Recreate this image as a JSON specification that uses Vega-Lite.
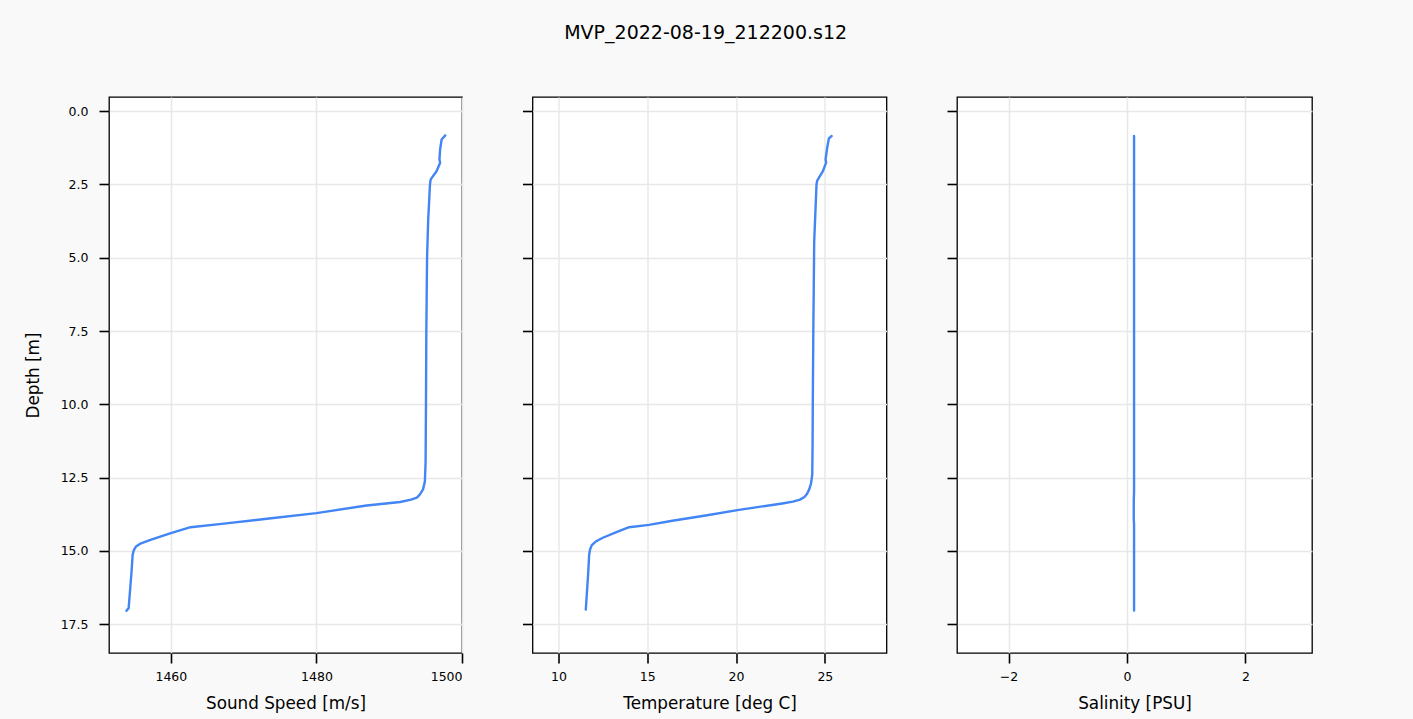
{
  "$schema": "https://vega.github.io/schema/vega-lite/v6.json",
  "background": "#f9f9f9",
  "padding": {"left": 24, "top": 24, "right": 100, "bottom": 8},
  "bounds": "flush",
  "spacing": 70.5,
  "title": {"text": "MVP_2022-08-19_212200.s12", "fontSize": 19, "font": "DejaVu Sans", "fontWeight": "normal", "color": "black", "anchor": "middle", "offset": 53, "dx": 37},
  "datasets": {
    "ss": [
      {"depth": 0.83, "speed": 1497.7},
      {"depth": 0.97, "speed": 1497.2},
      {"depth": 1.3, "speed": 1497.0},
      {"depth": 1.65, "speed": 1496.9},
      {"depth": 1.76, "speed": 1497.0},
      {"depth": 2.05, "speed": 1496.5},
      {"depth": 2.33, "speed": 1495.7},
      {"depth": 2.5, "speed": 1495.6},
      {"depth": 3.75, "speed": 1495.35},
      {"depth": 5.0, "speed": 1495.2},
      {"depth": 7.5, "speed": 1495.1},
      {"depth": 10.0, "speed": 1495.05},
      {"depth": 11.95, "speed": 1495.0},
      {"depth": 12.63, "speed": 1494.9},
      {"depth": 12.9, "speed": 1494.65},
      {"depth": 13.08, "speed": 1494.2},
      {"depth": 13.18, "speed": 1493.8},
      {"depth": 13.25, "speed": 1493.0},
      {"depth": 13.33, "speed": 1491.5},
      {"depth": 13.45, "speed": 1486.9},
      {"depth": 13.71, "speed": 1480.0},
      {"depth": 13.9, "speed": 1473.2},
      {"depth": 14.07, "speed": 1467.3},
      {"depth": 14.19, "speed": 1462.7},
      {"depth": 14.39, "speed": 1460.0},
      {"depth": 14.62, "speed": 1457.2},
      {"depth": 14.74, "speed": 1455.9},
      {"depth": 14.85, "speed": 1455.2},
      {"depth": 14.98, "speed": 1454.9},
      {"depth": 15.13, "speed": 1454.75},
      {"depth": 15.7, "speed": 1454.6},
      {"depth": 16.95, "speed": 1454.2},
      {"depth": 17.04, "speed": 1453.9}
    ],
    "temp": [
      {"depth": 0.85, "temperature": 25.38},
      {"depth": 0.93, "temperature": 25.23},
      {"depth": 1.25, "temperature": 25.13},
      {"depth": 1.65, "temperature": 25.04},
      {"depth": 1.76, "temperature": 25.07},
      {"depth": 2.05, "temperature": 24.89},
      {"depth": 2.37, "temperature": 24.57},
      {"depth": 2.5, "temperature": 24.53},
      {"depth": 4.44, "temperature": 24.4},
      {"depth": 7.5, "temperature": 24.35},
      {"depth": 10.0, "temperature": 24.32},
      {"depth": 11.26, "temperature": 24.31},
      {"depth": 12.4, "temperature": 24.29},
      {"depth": 12.7, "temperature": 24.22},
      {"depth": 12.9, "temperature": 24.12},
      {"depth": 13.05, "temperature": 24.0},
      {"depth": 13.16, "temperature": 23.85},
      {"depth": 13.25, "temperature": 23.6},
      {"depth": 13.32, "temperature": 23.2},
      {"depth": 13.38, "temperature": 22.6},
      {"depth": 13.6, "temperature": 20.16},
      {"depth": 13.79, "temperature": 18.29},
      {"depth": 13.97, "temperature": 16.41},
      {"depth": 14.11, "temperature": 15.1},
      {"depth": 14.19, "temperature": 13.98},
      {"depth": 14.37, "temperature": 13.23},
      {"depth": 14.55, "temperature": 12.5},
      {"depth": 14.68, "temperature": 12.1},
      {"depth": 14.8, "temperature": 11.88},
      {"depth": 14.95, "temperature": 11.78},
      {"depth": 15.13, "temperature": 11.73},
      {"depth": 15.81, "temperature": 11.67},
      {"depth": 17.0, "temperature": 11.54}
    ],
    "sal": [
      {"depth": 0.85, "salinity": 0.12},
      {"depth": 5.0, "salinity": 0.12},
      {"depth": 10.0, "salinity": 0.12},
      {"depth": 12.97, "salinity": 0.12},
      {"depth": 13.3, "salinity": 0.115},
      {"depth": 13.9, "salinity": 0.115},
      {"depth": 14.1, "salinity": 0.12},
      {"depth": 17.03, "salinity": 0.12}
    ]
  },
  "config": {
    "font": "DejaVu Sans",
    "view": {"stroke": "black", "strokeWidth": 1.3, "fill": "white"},
    "axis": {
      "domain": false,
      "grid": true,
      "gridColor": "#e8e8e8",
      "gridWidth": 1.5,
      "tickColor": "black",
      "tickSize": 10,
      "tickWidth": 1.6,
      "labelFont": "DejaVu Sans",
      "labelFontSize": 12.5,
      "labelColor": "black",
      "titleFont": "DejaVu Sans",
      "titleFontSize": 16.8,
      "titleFontWeight": "normal",
      "titleColor": "black"
    },
    "axisX": {"labelPadding": 7, "titlePadding": 13},
    "axisY": {"labelPadding": 11}
  },
  "hconcat": [
    {
      "width": 353,
      "height": 556,
      "data": {"name": "ss"},
      "mark": {"type": "line", "color": "#4285f4", "strokeWidth": 2.4, "strokeJoin": "round", "strokeCap": "round"},
      "encoding": {
        "x": {"field": "speed", "type": "quantitative", "title": "Sound Speed [m/s]",
              "scale": {"domain": [1451.5, 1500], "nice": false, "zero": false},
              "axis": {"values": [1460, 1480, 1500], "format": "d"}},
        "y": {"field": "depth", "type": "quantitative", "title": "Depth [m]",
              "scale": {"domain": [-0.48, 18.48], "reverse": true, "nice": false, "zero": false},
              "axis": {"values": [0, 2.5, 5, 7.5, 10, 12.5, 15, 17.5], "format": ".1f",
                       "titleX": -70.7, "titleY": 278, "titleBaseline": "alphabetic", "titleAlign": "center", "titleAngle": 270}},
        "order": {"field": "depth", "type": "quantitative"}
      }
    },
    {
      "width": 354,
      "height": 556,
      "data": {"name": "temp"},
      "mark": {"type": "line", "color": "#4285f4", "strokeWidth": 2.4, "strokeJoin": "round", "strokeCap": "round"},
      "encoding": {
        "x": {"field": "temperature", "type": "quantitative", "title": "Temperature [deg C]",
              "scale": {"domain": [8.54, 28.47], "nice": false, "zero": false},
              "axis": {"values": [10, 15, 20, 25], "format": "d"}},
        "y": {"field": "depth", "type": "quantitative", "title": null,
              "scale": {"domain": [-0.48, 18.48], "reverse": true, "nice": false, "zero": false},
              "axis": {"values": [0, 2.5, 5, 7.5, 10, 12.5, 15, 17.5], "labels": false}},
        "order": {"field": "depth", "type": "quantitative"}
      }
    },
    {
      "width": 355,
      "height": 556,
      "data": {"name": "sal"},
      "mark": {"type": "line", "color": "#4285f4", "strokeWidth": 2.4, "strokeJoin": "round", "strokeCap": "round"},
      "encoding": {
        "x": {"field": "salinity", "type": "quantitative", "title": "Salinity [PSU]",
              "scale": {"domain": [-2.87, 3.125], "nice": false, "zero": false},
              "axis": {"values": [-2, 0, 2], "format": "d"}},
        "y": {"field": "depth", "type": "quantitative", "title": null,
              "scale": {"domain": [-0.48, 18.48], "reverse": true, "nice": false, "zero": false},
              "axis": {"values": [0, 2.5, 5, 7.5, 10, 12.5, 15, 17.5], "labels": false}},
        "order": {"field": "depth", "type": "quantitative"}
      }
    }
  ]
}
